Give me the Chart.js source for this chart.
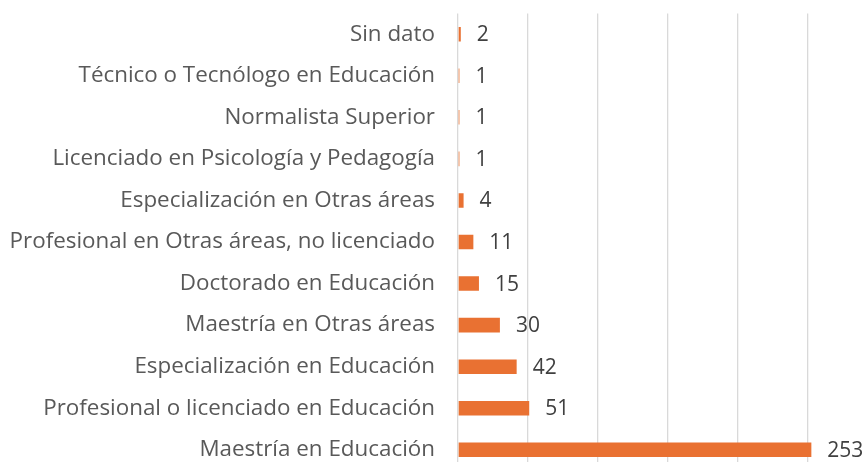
<!DOCTYPE html>
<html>
<head>
<meta charset="utf-8">
<script src="https://cdn.jsdelivr.net/npm/chart.js@4.4.1/dist/chart.umd.min.js"></script>
<style>
  html, body { margin: 0; padding: 0; background: #fff; overflow: hidden; }
  #wrap { position: relative; width: 877px; height: 484px; }
</style>
</head>
<body>
<div id="wrap"><canvas id="c"></canvas></div>
<script>
const categories = [
  "Sin dato",
  "Técnico o Tecnólogo en Educación",
  "Normalista Superior",
  "Licenciado en Psicología y Pedagogía",
  "Especialización en Otras áreas",
  "Profesional en Otras áreas, no licenciado",
  "Doctorado en Educación",
  "Maestría en Otras áreas",
  "Especialización en Educación",
  "Profesional o licenciado en Educación",
  "Maestría en Educación"
];
const values = [2, 1, 1, 1, 4, 11, 15, 30, 42, 51, 253];
const xTickStep = 50;
const xMax = 300;

const FONT = "'Open Sans', sans-serif";

const valueLabels = {
  id: 'valueLabels',
  afterDatasetsDraw(chart) {
    const ctx = chart.ctx;
    const meta = chart.getDatasetMeta(0);
    ctx.save();
    ctx.font = "21px " + FONT;
    ctx.fillStyle = '#404040';
    ctx.textAlign = 'left';
    ctx.textBaseline = 'middle';
    meta.data.forEach((bar, i) => {
      ctx.fillText(String(values[i]), bar.x + 16, bar.y + 1);
    });
    ctx.restore();
  }
};

new Chart(document.getElementById('c'), {
  type: 'bar',
  data: {
    labels: categories,
    datasets: [{
      data: values,
      backgroundColor: '#E97132',
      borderWidth: 0,
      categoryPercentage: 1,
      barPercentage: 0.35
    }]
  },
  options: {
    indexAxis: 'y',
    responsive: true,
    maintainAspectRatio: false,
    animation: false,
    layout: { padding: { top: 13, right: 0, bottom: 0, left: 0 } },
    plugins: { legend: { display: false }, tooltip: { enabled: false } },
    scales: {
      x: {
        min: 0, max: xMax,
        ticks: { display: false, stepSize: xTickStep },
        grid: { color: '#D9D9D9', lineWidth: 1.3, drawTicks: false },
        border: { display: false }
      },
      y: {
        afterFit: (s) => { s.width = 458; },
        ticks: { color: '#595959', font: { family: FONT, size: 22.4 }, padding: 0 },
        grid: { display: false, drawTicks: true, tickLength: 23 },
        border: { display: false }
      }
    }
  },
  plugins: [valueLabels]
});
</script>
</body>
</html>
